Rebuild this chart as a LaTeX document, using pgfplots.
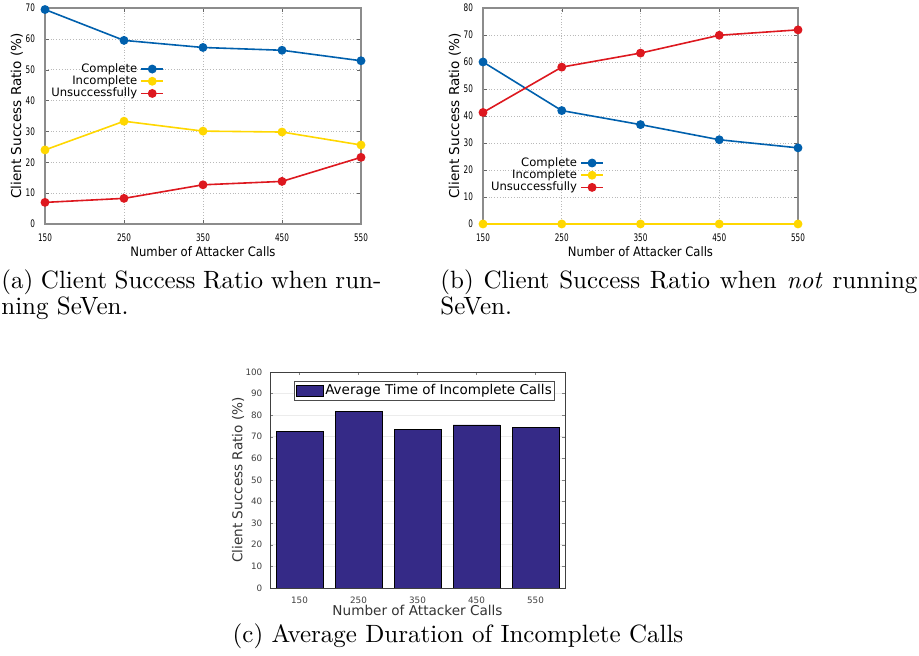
\documentclass[border=0pt]{standalone}
\usepackage{fontspec}
\usepackage{pgfplots}
\pgfplotsset{compat=1.18}
\newfontfamily\gp{DejaVu Sans}
\newfontfamily\capfont{lmroman10-regular.otf}[ItalicFont=lmroman10-italic.otf]
\definecolor{gpblue}{HTML}{0060AD}
\definecolor{gpyellow}{HTML}{FFD700}
\definecolor{gpred}{HTML}{DD181F}
\definecolor{parula}{HTML}{352A87}
\def\u{0.5pt}

% gnuplot-like line plots for (a) and (b)
\pgfplotsset{
  gpaxis/.style={
    scale only axis, clip=false,
    xmin=150, xmax=550, ymin=0,
    xtick={150,250,...,550},
    tick align=inside, major tick length=2pt,
    axis line style={line width=0.6pt, black!45},
    major tick style={black!60},
    grid=major, grid style={densely dotted, gray!55, line width=0.3pt},
    xticklabel={\scalebox{0.7}[1]{\pgfmathprintnumber[assume math mode=true]{\tick}}},
    yticklabel={\scalebox{0.7}[1]{\pgfmathprintnumber[assume math mode=true]{\tick}}},
    ticklabel style={font=\gp\fontsize{5.2}{6}\selectfont},
    xticklabel style={yshift=-1.2pt},
    yticklabel style={xshift=-1.5pt},
    every axis x label/.style={at={(axis description cs:0.5,-0.13)}, anchor=center,
      font=\gp\fontsize{5.8}{6}\selectfont},
    every axis y label/.style={at={(axis description cs:-0.089,0.5)}, anchor=center, rotate=90,
      font=\gp\fontsize{6.8}{7}\selectfont},
    xlabel={\scalebox{1}[1.12]{Number of Attacker Calls}},
    ylabel={Client Success Ratio (\%)},
    legend plot pos=right, legend cell align=right,
    legend style={draw=none, fill=none, font=\gp\fontsize{5.8}{6}\selectfont,
      row sep=0.2pt, column sep=1.5pt,
      nodes={inner sep=0.1pt, text height=4.4pt, text depth=1.3pt}},
    legend image code/.code={\draw[mark repeat=2,mark phase=2,##1] plot coordinates {(0pt,0pt) (5.5pt,0pt) (11pt,0pt)};},
    every axis plot/.append style={line width=0.8pt, mark=*, mark size=1.8pt},
  },
}

\begin{document}
\begin{tikzpicture}
\useasboundingbox (0,0) rectangle (919*\u,656*\u);

% (a) running SeVen
\begin{axis}[gpaxis,
  at={(45*\u,432*\u)}, anchor=south west,
  width=316*\u, height=216*\u,
  ymax=70, ytick={0,10,...,70},
  legend style={at={(axis description cs:0.397,0.765)}, anchor=north east}]
\addplot[gpblue, mark options={fill=gpblue}] coordinates {(150,69.5) (250,59.5) (350,57.2) (450,56.3) (550,52.9)};
\addlegendentry{Complete}
\addplot[gpyellow, mark options={fill=gpyellow}] coordinates {(150,24.0) (250,33.3) (350,30.1) (450,29.8) (550,25.6)};
\addlegendentry{Incomplete}
\addplot[gpred, mark options={fill=gpred}] coordinates {(150,7.0) (250,8.3) (350,12.7) (450,13.8) (550,21.6)};
\addlegendentry{Unsuccessfully}
\end{axis}

% (b) not running SeVen
\begin{axis}[gpaxis,
  at={(483*\u,432*\u)}, anchor=south west,
  width=315*\u, height=216*\u,
  ymax=80, ytick={0,10,...,80},
  legend style={at={(axis description cs:0.404,0.33)}, anchor=north east}]
\addplot[gpblue, mark options={fill=gpblue}] coordinates {(150,60.0) (250,42.0) (350,36.8) (450,31.2) (550,28.2)};
\addlegendentry{Complete}
\addplot[gpyellow, mark options={fill=gpyellow}] coordinates {(150,0) (250,0) (350,0) (450,0) (550,0)};
\addlegendentry{Incomplete}
\addplot[gpred, mark options={fill=gpred}] coordinates {(150,41.3) (250,58.1) (350,63.3) (450,69.9) (550,71.9)};
\addlegendentry{Unsuccessfully}
\end{axis}

% (c) average duration of incomplete calls
\begin{axis}[
  scale only axis,
  at={(270*\u,68*\u)}, anchor=south west,
  width=295*\u, height=216*\u,
  xmin=0.5, xmax=5.5, ymin=0, ymax=100,
  xtick={1,...,5}, xticklabels={150,250,350,450,550},
  ytick={0,10,...,100},
  tick align=inside, major tick length=1.6pt,
  axis line style={line width=0.4pt, black!75},
  ymajorgrids, grid style={gray!15, line width=0.4pt},
  /pgf/number format/assume math mode=true,
  ticklabel style={font=\gp\fontsize{4.4}{5}\selectfont, black!75},
  xticklabel style={yshift=-1.2pt},
  yticklabel style={xshift=-0.3pt},
  every axis x label/.style={at={(axis description cs:0.5,-0.102)}, anchor=center,
    font=\gp\fontsize{6.8}{7}\selectfont, black!80},
  every axis y label/.style={at={(axis description cs:-0.108,0.5)}, anchor=center, rotate=90,
    font=\gp\fontsize{6.8}{7}\selectfont, black!80},
  xlabel={Number of Attacker Calls},
  ylabel={Client Success Ratio (\%)},
  legend style={at={(axis description cs:0.966,0.958)}, anchor=north east,
    draw=black!70, line width=0.4pt, fill=white,
    font=\gp\fontsize{6.75}{7}\selectfont, inner sep=0.6pt,
    nodes={inner sep=0.8pt}},
  legend image code/.code={\draw[#1, line width=0.4pt] (0pt,-2.6pt) rectangle (13.5pt,2.6pt);},
]
\addplot[ybar, bar width=47*\u, fill=parula, draw=black, line width=0.4pt] coordinates {(1,72.3) (2,81.7) (3,73.5) (4,75.5) (5,74.4)};
\addlegendentry{Average Time of Incomplete Calls}
\end{axis}

% sub-captions (justified first lines)
\node[anchor=base west, inner sep=0, font=\capfont\fontsize{12.5}{13}\selectfont]
  at (1*\u,367*\u) {\makebox[190pt][s]{(a) Client Success Ratio when run-}};
\node[anchor=base west, inner sep=0, font=\capfont\fontsize{12.5}{13}\selectfont]
  at (1*\u,341*\u) {ning SeVen.};
\node[anchor=base west, inner sep=0, font=\capfont\fontsize{12.5}{13}\selectfont]
  at (440*\u,367*\u) {\makebox[238.5pt][s]{(b) Client Success Ratio when \textit{not} running}};
\node[anchor=base west, inner sep=0, font=\capfont\fontsize{12.5}{13}\selectfont]
  at (440*\u,341*\u) {SeVen.};
\node[anchor=base, inner sep=0, font=\capfont\fontsize{12.5}{13}\selectfont]
  at (458*\u,13*\u) {(c) Average Duration of Incomplete Calls};
\end{tikzpicture}
\end{document}
